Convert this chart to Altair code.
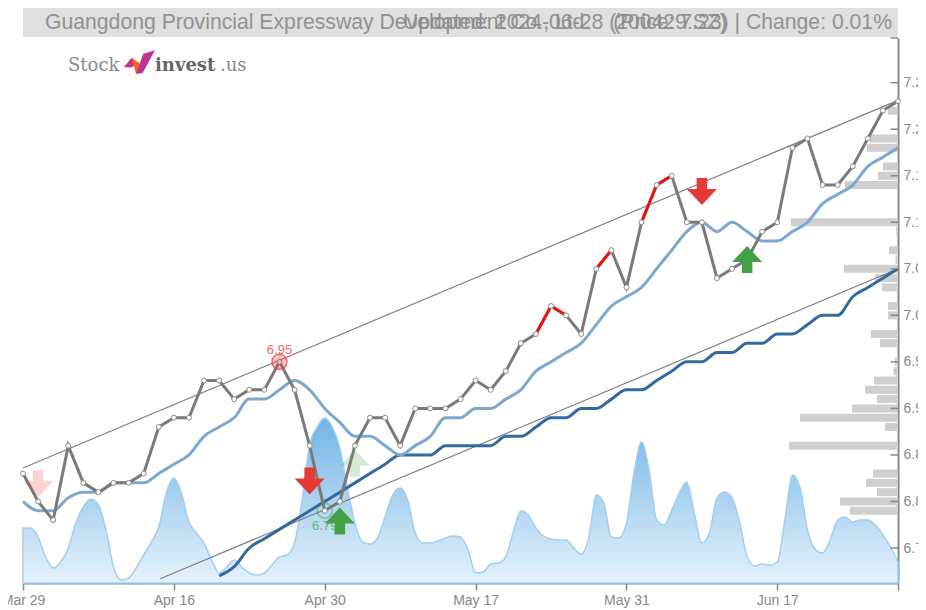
import altair as alt
import pandas as pd

# ---- data ----
close = [6.83, 6.80, 6.78, 6.86, 6.82, 6.81, 6.82, 6.82, 6.83, 6.88,
         6.89, 6.89, 6.93, 6.93, 6.91, 6.92, 6.92, 6.95, 6.92, 6.86,
         6.79, 6.80, 6.86, 6.89, 6.89, 6.86, 6.90, 6.90, 6.90, 6.91,
         6.93, 6.92, 6.94, 6.97, 6.98, 7.01, 7.00, 6.98, 7.05, 7.07,
         7.03, 7.10, 7.14, 7.15, 7.10, 7.10, 7.04, 7.05, 7.06, 7.09,
         7.10, 7.18, 7.19, 7.14, 7.14, 7.16, 7.19, 7.22, 7.23]
ma_fast = [6.80, 6.79, 6.79, 6.804, 6.81, 6.81, 6.82, 6.82, 6.82, 6.83,
           6.84, 6.85, 6.87, 6.88, 6.89, 6.91, 6.91, 6.92, 6.93, 6.92,
           6.90, 6.885, 6.87, 6.87, 6.86, 6.85, 6.86, 6.87, 6.89, 6.89,
           6.90, 6.90, 6.91, 6.92, 6.94, 6.95, 6.96, 6.97, 6.99, 7.01,
           7.02, 7.03, 7.05, 7.07, 7.09, 7.10, 7.09, 7.10, 7.09, 7.08,
           7.08, 7.09, 7.10, 7.12, 7.13, 7.14, 7.16, 7.17, 7.18]
ma_slow_start = 13
ma_slow = [6.72, 6.73, 6.75, 6.76, 6.77, 6.78, 6.79, 6.80, 6.81, 6.82,
           6.83, 6.84, 6.85, 6.85, 6.85, 6.86, 6.86, 6.86, 6.86, 6.87,
           6.87, 6.88, 6.89, 6.89, 6.90, 6.90, 6.91, 6.92, 6.92, 6.93,
           6.94, 6.95, 6.95, 6.96, 6.96, 6.97, 6.97, 6.98, 6.98, 6.99,
           7.00, 7.00, 7.02, 7.03, 7.04, 7.05]
red_runs = [[34, 35, 36], [38, 39], [41, 42, 43]]
trend_upper = [(0, 6.836), (58, 7.231)]
trend_lower = [(9.1, 6.717), (58, 7.05)]
volume = [55, 55, 46, 26, 15, 21, 35, 60, 76, 84,
          78, 53, 16, 3, 5, 15, 28, 41, 56, 90,
          105, 90, 61, 50, 40, 23, 10, 16, 23, 16,
          10, 8, 10, 18, 26, 28, 40, 83, 138, 156,
          165, 156, 135, 96, 60, 41, 39, 45, 66, 88,
          95, 83, 50, 40, 40, 42, 45, 47, 46, 33,
          10, 11, 19, 20, 26, 51, 72, 68, 55, 47,
          44, 43, 43, 35, 29, 45, 88, 80, 46, 45,
          60, 110, 141, 113, 63, 58, 73, 90, 101, 70,
          40, 50, 85, 91, 85, 61, 26, 17, 19, 18,
          21, 63, 108, 96, 53, 34, 30, 43, 63, 66,
          61, 63, 63, 58, 48, 36, 21]
profile_price = [7.22, 7.19, 7.18, 7.16, 7.15, 7.14, 7.10, 7.09, 7.07, 7.06,
                 7.05, 7.04, 7.03, 7.01, 7.00, 6.98, 6.97, 6.95, 6.94, 6.93,
                 6.92, 6.91, 6.90, 6.89, 6.88, 6.86, 6.83, 6.82, 6.81, 6.80,
                 6.79, 6.78]
profile_size = [10, 28, 31, 15, 20, 53, 107, 2, 9, 2.5,
                54, 23, 16, 10, 10, 27, 18, 3, 4.5, 24,
                33, 21, 46, 98, 13, 109, 25, 32, 21, 58,
                48, 1]
arrows_down = [(19, 6.822, 1.0), (45, 7.133, 1.0), (1, 6.819, 0.22)]
arrows_up = [(21, 6.779, 1.0), (48, 7.06, 1.0), (22, 6.841, 0.22)]
tick_labels = ["Mar 29", "Apr 16", "Apr 30", "May 17", "May 31", "Jun 17"]
x_ticks = [0, 10, 20, 30, 40, 50, 58]
y_ticks = [6.75, 6.80, 6.85, 6.90, 6.95, 7.00, 7.05, 7.10, 7.15, 7.20, 7.25]
title_left = "Guangdong Provincial Expressway Development Co., Ltd."
title_right = "(Price: 7.23) | Change: 0.01%"
title_updated = "Updated: 2024-06-28 (200429.SZ)"

# ---- scales ----
Y_MIN, Y_MAX = 6.7124, 7.298
W, H = 875, 545
PX_PER_VOL = (Y_MAX - Y_MIN) / H
AX = "#888888"
FONT = "Liberation Sans"

x_axis = alt.Axis(values=x_ticks, title=None, grid=False,
                  labelExpr="[" + ",".join(f"'{t}'" for t in tick_labels) + "][datum.value/10] || ''",
                  labelOverlap=False, labelFlush=False, labelBound=False,
                  domainColor=AX, domainWidth=2, tickColor=AX, tickWidth=1.5, tickSize=7,
                  labelColor=AX, labelFontSize=14, labelFont=FONT, labelPadding=3)
y_axis = alt.Axis(values=y_ticks, title=None, grid=False, orient="right", format=".2f",
                  ticks=False, domainColor=AX, domainWidth=2, labelOverlap=False,
                  labelColor=AX, labelFontSize=14, labelFont=FONT, labelPadding=5, labelFlush=False)
x_scale = alt.Scale(domain=[0, 58], nice=False, zero=False, padding=0)
y_scale = alt.Scale(domain=[Y_MIN, Y_MAX], nice=False, zero=False, padding=0)


def X(field):
    return alt.X(f"{field}:Q", scale=x_scale, axis=x_axis)


def Y(field):
    return alt.Y(f"{field}:Q", scale=y_scale, axis=y_axis)


one = pd.DataFrame({"a": [0]})
layers = []

# volume area
df_vol = pd.DataFrame({"idx": [i / 2 for i in range(len(volume))], "volume": volume})
layers.append(
    alt.Chart(df_vol)
    .transform_calculate(top=f"{Y_MIN} + datum.volume * {PX_PER_VOL}", base=str(Y_MIN))
    .mark_area(
        interpolate="monotone", stroke="#a3cfef", strokeWidth=1.5,
        fill=alt.Gradient(gradient="linear", x1=1, x2=1, y1=1, y2=0,
                          stops=[alt.GradientStop(color="#e6f2fb", offset=0),
                                 alt.GradientStop(color="#72b5e6", offset=1)]))
    .encode(x=X("idx"), y=Y("top"), y2=alt.Y2("base:Q"))
)

# volume profile
df_prof = pd.DataFrame({"price": profile_price, "size": profile_size})
layers.append(
    alt.Chart(df_prof)
    .transform_calculate(x0=f"58 - datum.size * {58 / W}", x1="58")
    .mark_bar(height=8, color="#cfcfcf", orient="horizontal")
    .encode(x=X("x0"), x2=alt.X2("x1:Q"), y=Y("price"))
)

# trend channel
for i, tr in enumerate([trend_upper, trend_lower]):
    d = pd.DataFrame({"idx": [p[0] for p in tr], "v": [p[1] for p in tr]})
    layers.append(alt.Chart(d).mark_line(color="#808080", strokeWidth=1.2).encode(x=X("idx"), y=Y("v")))

# moving averages
df_slow = pd.DataFrame({"idx": range(ma_slow_start, ma_slow_start + len(ma_slow)), "v": ma_slow})
layers.append(alt.Chart(df_slow).mark_line(color="#336a9e", strokeWidth=3, interpolate="monotone")
              .encode(x=X("idx"), y=Y("v")))
df_fast = pd.DataFrame({"idx": range(len(ma_fast)), "v": ma_fast})
layers.append(alt.Chart(df_fast).mark_line(color="#7da8d0", strokeWidth=3, interpolate="monotone")
              .encode(x=X("idx"), y=Y("v")))

# close line
df_close = pd.DataFrame({"idx": range(len(close)), "v": close})
layers.append(alt.Chart(df_close).mark_line(color="#7a7a7a", strokeWidth=3).encode(x=X("idx"), y=Y("v")))
for run in red_runs:
    d = pd.DataFrame({"idx": run, "v": [close[i] for i in run]})
    layers.append(alt.Chart(d).mark_line(color="#ee1111", strokeWidth=3).encode(x=X("idx"), y=Y("v")))
layers.append(alt.Chart(df_close).mark_point(shape="circle", size=25, filled=True, fill="#ffffff",
                                             stroke="#8a8a8a", strokeWidth=1, opacity=1)
              .encode(x=X("idx"), y=Y("v")))

# high / low markers
hi = pd.DataFrame({"idx": [17], "v": [6.95], "t": ["6.95"]})
lo = pd.DataFrame({"idx": [20], "v": [6.79], "t": ["6.79"]})
STAR = "M0,-1 L0.18,-0.25 L1,-0.5 L0.35,0 L1,0.5 L0.18,0.25 L0,1 L-0.18,0.25 L-1,0.5 L-0.35,0 L-1,-0.5 L-0.18,-0.25 Z"
layers.append(alt.Chart(hi).mark_point(shape=STAR, size=500, filled=True, fill="#e53935", opacity=0.18, strokeWidth=0)
              .encode(x=X("idx"), y=Y("v")))
layers.append(alt.Chart(hi).mark_point(shape="circle", size=225, filled=True, fill="#e53935", fillOpacity=0.2,
                                       stroke="#e53935", strokeOpacity=0.7, strokeWidth=1.5)
              .encode(x=X("idx"), y=Y("v")))
layers.append(alt.Chart(hi).mark_text(color="#ef6a6a", fontSize=13, font=FONT, dy=-12)
              .encode(x=X("idx"), y=Y("v"), text="t:N"))
layers.append(alt.Chart(lo).mark_point(shape="circle", size=225, filled=False, stroke="#43a047", strokeOpacity=0.7,
                                       strokeWidth=1.5)
              .encode(x=X("idx"), y=Y("v")))
layers.append(alt.Chart(lo).mark_text(color="#66b56a", fontSize=13, font=FONT, dy=15)
              .encode(x=X("idx"), y=Y("v"), text="t:N"))

# signal arrows
DOWN = "M-0.35,-0.9 L0.35,-0.9 L0.35,-0.17 L1,-0.17 L0,0.9 L-1,-0.17 L-0.35,-0.17 Z"
UP = "M-0.35,0.9 L0.35,0.9 L0.35,0.17 L1,0.17 L0,-0.9 L-1,0.17 L-0.35,0.17 Z"
for shape, col, rows in [(DOWN, "#e53935", arrows_down), (UP, "#43a047", arrows_up)]:
    for idx, price, op in rows:
        d = pd.DataFrame({"idx": [idx], "v": [price]})
        layers.append(alt.Chart(d).mark_point(shape=shape, size=900, filled=True, fill=col, opacity=op, strokeWidth=0)
                      .encode(x=X("idx"), y=Y("v")))

# inward y ticks
df_ticks = pd.DataFrame({"v": y_ticks + [Y_MAX]})
layers.append(alt.Chart(df_ticks).mark_rule(color=AX, strokeWidth=1.5)
              .encode(x=alt.value(W - 7.5), x2=alt.value(W), y=Y("v")))

# header band and titles
layers.append(alt.Chart(one).mark_rect(color="#e0e0e0")
              .encode(x=alt.value(0), x2=alt.value(W), y=alt.value(-31), y2=alt.value(-1)))
for txt, px, al in [(title_left, 22, "left"), (title_right, 869, "right"), (title_updated, 380, "left")]:
    layers.append(alt.Chart(one).mark_text(align=al, baseline="middle", fontSize=21.2, font=FONT,
                                           color="#8a8a8a", opacity=0.9)
                  .encode(x=alt.value(px), y=alt.value(-15), text=alt.value(txt)))

# logo
LOGO_A = "M-0.94,0.31 L-0.46,-0.27 L-0.1,0.15 L-0.52,0.35 Z"
LOGO_B = "M-0.46,-0.27 L0.06,0.1 L0.17,0.69 L-0.19,0.73 Z"
LOGO_C = "M0.27,-0.52 L1,-0.73 L0.23,0.69 L-0.19,0.73 Z"
for path, col in [(LOGO_A, "#c2348f"), (LOGO_B, "#ea6a1e"), (LOGO_C, "#bd3590")]:
    layers.append(alt.Chart(one).mark_point(shape=path, size=1024, filled=True, fill=col, opacity=1, strokeWidth=0)
                  .encode(x=alt.value(116), y=alt.value(24)))
for txt, px, col, bold in [("Stock", 45, "#8a8a8a", "normal"), ("invest", 132, "#666666", "bold"), (".us", 197, "#8a8a8a", "normal")]:
    layers.append(alt.Chart(one).mark_text(align="left", baseline="alphabetic", fontSize=18, font="DejaVu Serif",
                                           color=col, fontWeight=bold)
                  .encode(x=alt.value(px), y=alt.value(33), text=alt.value(txt)))

chart = (
    alt.layer(*layers)
    .properties(width=W, height=H, autosize=alt.AutoSizeParams(type="none"),
                padding={"left": 15, "top": 30, "right": 20, "bottom": 26})
    .configure_view(stroke=None)
)
chart.save("out.html", embed_options={"renderer": "svg", "actions": False})
